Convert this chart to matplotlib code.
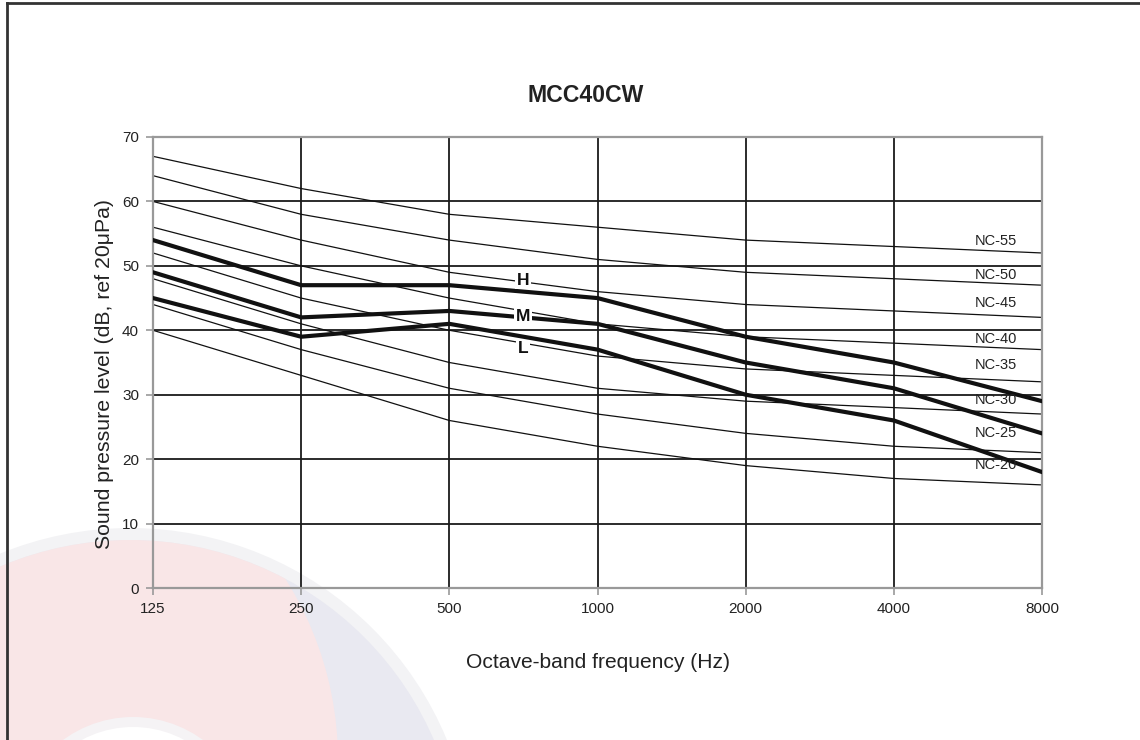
import matplotlib
matplotlib.use('Agg')
import matplotlib.pyplot as plt
import matplotlib.patches as patches
from matplotlib.lines import Line2D

plt.rcParams['font.family'] = ['Liberation Sans', 'DejaVu Sans']

# octave bands (Hz)
freqs = [125, 250, 500, 1000, 2000, 4000, 8000]
freq_labels = ['125', '250', '500', '1000', '2000', '4000', '8000']

# NC reference curves
nc_names = ['NC-55', 'NC-50', 'NC-45', 'NC-40', 'NC-35', 'NC-30', 'NC-25', 'NC-20']
nc_55 = [67, 62, 58, 56, 54, 53, 52]
nc_50 = [64, 58, 54, 51, 49, 48, 47]
nc_45 = [60, 54, 49, 46, 44, 43, 42]
nc_40 = [56, 50, 45, 41, 39, 38, 37]
nc_35 = [52, 45, 40, 36, 34, 33, 32]
nc_30 = [48, 41, 35, 31, 29, 28, 27]
nc_25 = [44, 37, 31, 27, 24, 22, 21]
nc_20 = [40, 33, 26, 22, 19, 17, 16]
nc_curves = [nc_55, nc_50, nc_45, nc_40, nc_35, nc_30, nc_25, nc_20]
nc_label_y = [53.8, 48.6, 44.3, 38.7, 34.6, 29.2, 24.1, 19.1]

# unit speeds
speed_names = ['H', 'M', 'L']
speed_h = [54, 47, 47, 45, 39, 35, 29]
speed_m = [49, 42, 43, 41, 35, 31, 24]
speed_l = [45, 39, 41, 37, 30, 26, 18]
speed_curves = [speed_h, speed_m, speed_l]
speed_label_y = [47.8, 42.1, 37.1]

yticks = [0, 10, 20, 30, 40, 50, 60, 70]

W, H = 1140, 740
fig = plt.figure(figsize=(W / 100, H / 100), dpi=100)
fig.patch.set_facecolor('white')

# faint logo watermark in the lower left (pixel coords, y measured from top)
def px(x, y):
    return (x, H - y)

wm_ring = patches.Circle(px(130, 871), 343, transform=None, facecolor='#f3f3f5',
                         edgecolor='none', zorder=-5)
wm_blue = patches.Circle(px(130, 871), 331, transform=None, facecolor='#e9e9f1',
                         edgecolor='none', zorder=-4)
wm_pink = patches.Circle(px(0, 760), 338, transform=None, facecolor='#f9e6e7',
                         edgecolor='none', zorder=-3)
wm_pink.set_clip_path(wm_blue)
wm_white_ring = patches.Circle(px(133, 835), 118, transform=None, facecolor='#f5f3f5',
                               edgecolor='none', zorder=-2)
wm_white = patches.Circle(px(133, 835), 108, transform=None, facecolor='white',
                          edgecolor='none', zorder=-1)
for p in [wm_ring, wm_blue, wm_pink, wm_white_ring, wm_white]:
    fig.patches.append(p)

# outer frame (only left and top edges are visible)
fig.add_artist(Line2D([7 / W, 7 / W], [0, 1 - 3 / H], color='#333333', lw=2))
fig.add_artist(Line2D([7 / W, 1], [1 - 3 / H, 1 - 3 / H], color='#333333', lw=2))

ax = fig.add_axes([153 / W, 1 - 588 / H, (1042 - 153) / W, (588 - 137) / H])
ax.patch.set_alpha(0)
ax.set_xscale('log', base=2)
ax.set_xlim(125, 8000)
ax.set_ylim(0, 70)
ax.set_xticks(freqs)
ax.set_xticklabels(freq_labels)
ax.minorticks_off()
ax.set_yticks(yticks)

for y in yticks[1:-1]:
    ax.axhline(y, color='#1a1a1a', lw=1.3, zorder=1)
for f in freqs[1:-1]:
    ax.axvline(f, color='#1a1a1a', lw=1.3, zorder=1)

for s in ax.spines.values():
    s.set_color('#999999')
    s.set_linewidth(1.6)
ax.tick_params(axis='both', colors='#999999', length=5, width=1.2,
               labelcolor='#222222', labelsize=11, pad=5)

for vals in nc_curves:
    ax.plot(freqs, vals, color='#111111', lw=0.9, zorder=2)

for vals in speed_curves:
    ax.plot(freqs, vals, color='#111111', lw=3.0, zorder=3,
            solid_joinstyle='round')

for name, ly in zip(nc_names, nc_label_y):
    ax.text(6452, ly, name, ha='center', va='center', fontsize=10.5,
            color='#222222', zorder=4)

for name, ly in zip(speed_names, speed_label_y):
    ax.text(707, ly, name, ha='center', va='center', fontsize=12.5,
            fontweight='bold', color='#111111', zorder=5,
            bbox=dict(facecolor='white', edgecolor='none', pad=1.2))

fig.text(585.8 / W, 1 - 95 / H, 'MCC40CW', ha='center', va='center',
         fontsize=16.6, fontweight='bold', color='#222222')
fig.text(598 / W, 1 - 663 / H, 'Octave-band frequency (Hz)', ha='center',
         va='center', fontsize=15.1, color='#222222')
fig.text(105 / W, 1 - 374 / H, 'Sound pressure level (dB, ref 20\u03bcPa)',
         ha='center', va='center', rotation=90, fontsize=15.3, color='#222222')

fig.savefig('out.png', dpi=100, facecolor='white')
